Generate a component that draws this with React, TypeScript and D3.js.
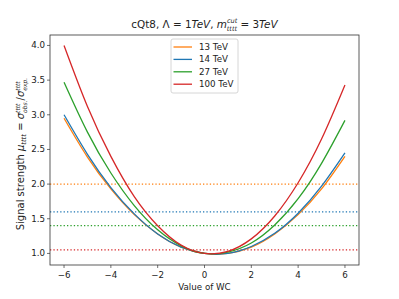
import React from "react";
import * as d3 from "d3";

const wc = [-6, -5, -4, -3, -2, -1, 0, 1, 2, 3, 4, 5, 6];
const mu13 = [2.95, 2.39, 1.93, 1.56, 1.28, 1.09, 1.0, 1.0, 1.09, 1.28, 1.56, 1.93, 2.4];
const mu14 = [3.0, 2.43, 1.95, 1.57, 1.28, 1.09, 1.0, 1.0, 1.1, 1.29, 1.58, 1.97, 2.45];
const mu27 = [3.47, 2.75, 2.16, 1.69, 1.34, 1.11, 1.0, 1.02, 1.15, 1.41, 1.79, 2.3, 2.92];
const mu100 = [4.0, 3.12, 2.4, 1.82, 1.4, 1.12, 1.0, 1.03, 1.21, 1.54, 2.02, 2.65, 3.43];
const seriesNames = ["13 TeV", "14 TeV", "27 TeV", "100 TeV"];
const limits = [2.0, 1.6, 1.4, 1.05];
const xTicks = [-6, -4, -2, 0, 2, 4, 6];
const yTicks = [1.0, 1.5, 2.0, 2.5, 3.0, 3.5, 4.0];

const colors = ["#ff7f0e", "#1f77b4", "#2ca02c", "#d62728"];
const FONT = "DejaVu Sans, sans-serif";

export default function App() {
  const W = 399, H = 299;
  const L = 50, R = 359, T = 35, B = 265;
  const x = d3.scaleLinear().domain([-6.6, 6.6]).range([L, R]);
  const y = d3.scaleLinear().domain([0.833, 4.151]).range([B, T]);
  const all = [mu13, mu14, mu27, mu100];
  const line = d3
    .line<number>()
    .x((_, i) => x(wc[i]))
    .y((d) => y(d))
    .curve(d3.curveNatural);
  const fs = 8.7;
  return (
    <svg width={W} height={H} style={{ position: "absolute", left: 0, top: 0 }} fontFamily={FONT}>
      <rect x={0} y={0} width={W} height={H} fill="#fff" />
      <defs>
        <clipPath id="clip">
          <rect x={L} y={T} width={R - L} height={B - T} />
        </clipPath>
      </defs>
      <g clipPath="url(#clip)">
        {limits.map((v, i) => (
          <line
            key={"l" + i}
            x1={L}
            x2={R}
            y1={y(v)}
            y2={y(v)}
            stroke={colors[i]}
            strokeWidth={1.3}
            strokeDasharray="1.3,2.1"
          />
        ))}
        {all.map((s, i) => (
          <path key={"s" + i} d={line(s) || ""} fill="none" stroke={colors[i]} strokeWidth={1.3} />
        ))}
      </g>
      <rect x={L} y={T} width={R - L} height={B - T} fill="none" stroke="#333" strokeWidth={0.8} />
      {xTicks.map((t) => (
        <g key={"xt" + t}>
          <line x1={x(t)} x2={x(t)} y1={B} y2={B + 3} stroke="#333" strokeWidth={0.7} />
          <text x={x(t)} y={B + 13} fontSize={fs} textAnchor="middle" fill="#222">
            {t < 0 ? "\u2212" + Math.abs(t) : String(t)}
          </text>
        </g>
      ))}
      {yTicks.map((t) => (
        <g key={"yt" + t}>
          <line x1={L - 3} x2={L} y1={y(t)} y2={y(t)} stroke="#333" strokeWidth={0.7} />
          <text x={L - 5} y={y(t) + 3} fontSize={fs} textAnchor="end" fill="#222">
            {t.toFixed(1)}
          </text>
        </g>
      ))}
      <text x={(L + R) / 2} y={290} fontSize={fs} textAnchor="middle" fill="#222">
        Value of WC
      </text>
      <text transform={`translate(24,154) rotate(-90)`} fontSize={10} textAnchor="middle" fill="#222">
        <tspan>Signal strength </tspan>
        <tspan fontStyle="italic">μ</tspan>
        <tspan fontSize={6.8} dy={2} fontStyle="italic">tttt</tspan>
        <tspan dy={-2}> = </tspan>
        <tspan fontStyle="italic">σ</tspan>
        <tspan fontSize={6} dy={-4.5} fontStyle="italic">tttt</tspan>
        <tspan fontSize={6} dy={7} dx={-9.4} fontStyle="italic">obs.</tspan>
        <tspan dy={-2.5}>/</tspan>
        <tspan fontStyle="italic">σ</tspan>
        <tspan fontSize={6} dy={-4.5} fontStyle="italic">tttt</tspan>
        <tspan fontSize={6} dy={7} dx={-9.4} fontStyle="italic">exp.</tspan>
      </text>
      <text x={(L + R) / 2} y={28} fontSize={10.4} textAnchor="middle" fill="#222">
        <tspan>cQt8, Λ = 1</tspan>
        <tspan fontStyle="italic">TeV</tspan>
        <tspan>, </tspan>
        <tspan fontStyle="italic">m</tspan>
        <tspan fontSize={6.6} dy={-5} fontStyle="italic">cut</tspan>
        <tspan fontSize={6.6} dy={8} dx={-10.5} fontStyle="italic">tttt</tspan>
        <tspan dy={-3}> = 3</tspan>
        <tspan fontStyle="italic">TeV</tspan>
      </text>
      <g>
        <rect x={171} y={39} width={67} height={54} rx={2} fill="#fff" fillOpacity={0.8} stroke="#ccc" strokeWidth={0.8} />
        {seriesNames.map((n, i) => (
          <g key={"lg" + i}>
            <line x1={173.5} x2={192} y1={47 + i * 12.4} y2={47 + i * 12.4} stroke={colors[i]} strokeWidth={1.3} />
            <text x={199} y={47 + i * 12.4 + 3} fontSize={fs} fill="#222">
              {n}
            </text>
          </g>
        ))}
      </g>
    </svg>
  );
}
